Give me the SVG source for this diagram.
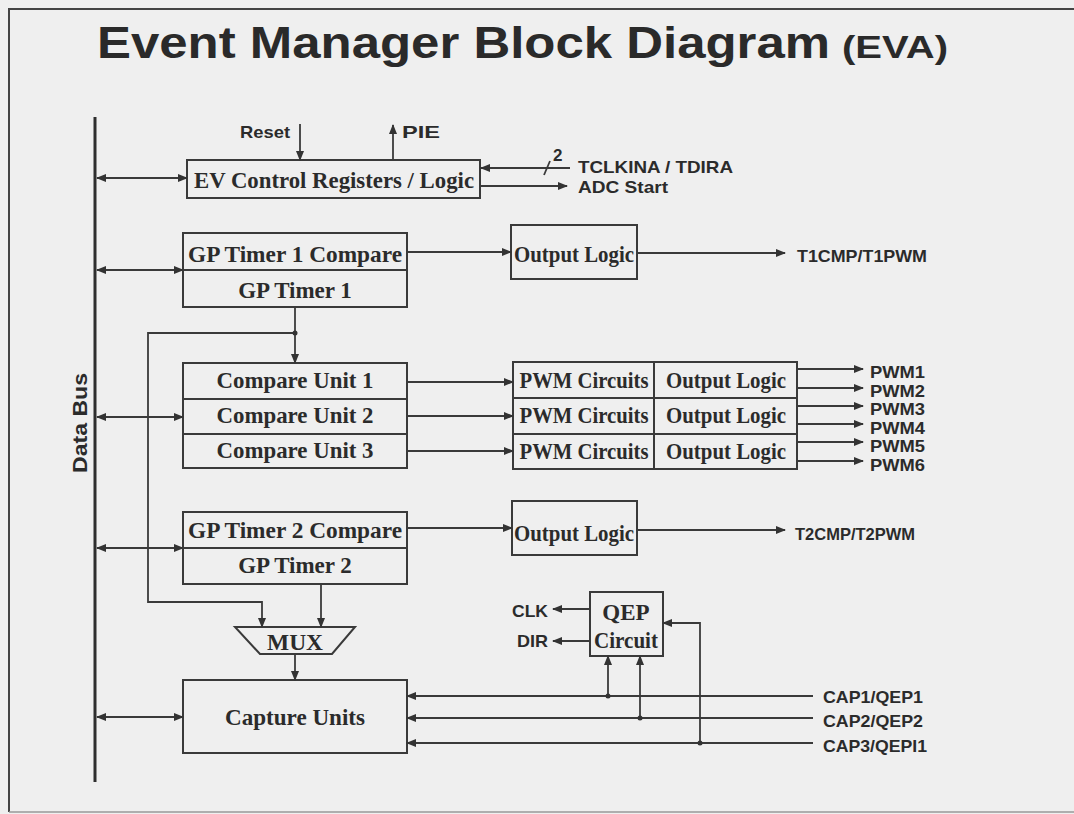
<svg xmlns="http://www.w3.org/2000/svg" width="1074" height="814" viewBox="0 0 1074 814">
<defs>
<marker id="arr" markerUnits="userSpaceOnUse" markerWidth="10" markerHeight="8" refX="9" refY="4" orient="auto-start-reverse">
<path d="M0,0 L10,4 L0,8 z" fill="#333"/>
</marker>
<style>
.box{fill:none;stroke:#3a3a3a;stroke-width:2}
.ln{fill:none;stroke:#3a3a3a;stroke-width:1.8}
.a{marker-end:url(#arr)}
.b{marker-start:url(#arr);marker-end:url(#arr)}
.t{font-family:"Liberation Serif",serif;font-weight:bold;font-size:23px;fill:#2b2b2b;text-anchor:middle}
.s{font-family:"Liberation Sans",Arial,sans-serif;font-weight:bold;font-size:17px;fill:#2b2b2b}
.dot{fill:#333}
</style>
</defs>
<rect x="0" y="0" width="1074" height="814" fill="#efefef"/>
<path d="M9,812 V9 H1074" fill="none" stroke="#444" stroke-width="2"/>
<line x1="9" y1="812" x2="1074" y2="812" stroke="#999" stroke-width="1.5"/>

<g id="title">
<text x="97" y="58" font-family="'Liberation Sans',Arial,sans-serif" font-weight="bold" font-size="44" fill="#2a2a2a" textLength="733" lengthAdjust="spacingAndGlyphs">Event Manager Block Diagram</text>
<text x="842" y="58" font-family="'Liberation Sans',Arial,sans-serif" font-weight="bold" font-size="31" fill="#2a2a2a" textLength="106" lengthAdjust="spacingAndGlyphs">(EVA)</text>
</g>

<g id="databus">
<line x1="95" y1="117" x2="95" y2="782" stroke="#2e2e2e" stroke-width="3"/>
<text transform="translate(87,423) rotate(-90)" text-anchor="middle" font-family="'Liberation Sans',Arial,sans-serif" font-weight="bold" font-size="21" fill="#2b2b2b" textLength="100" lengthAdjust="spacingAndGlyphs">Data Bus</text>
</g>

<g id="ev-control">
<rect class="box" x="187" y="160" width="293" height="38"/>
<text class="t" x="334" y="188" textLength="280" lengthAdjust="spacingAndGlyphs">EV Control Registers / Logic</text>
</g>

<g id="gp-timer1">
<rect class="box" x="183" y="233" width="224" height="74"/>
<line class="box" x1="183" y1="270" x2="407" y2="270"/>
<text class="t" x="295" y="262" textLength="214" lengthAdjust="spacingAndGlyphs">GP Timer 1 Compare</text>
<text class="t" x="295" y="298">GP Timer 1</text>
</g>

<g id="output-logic-1">
<rect class="box" x="511" y="225" width="126" height="54"/>
<text class="t" x="574" y="262" textLength="120" lengthAdjust="spacingAndGlyphs">Output Logic</text>
</g>

<g id="compare-units">
<rect class="box" x="183" y="363" width="224" height="105"/>
<line class="box" x1="183" y1="399" x2="407" y2="399"/>
<line class="box" x1="183" y1="434" x2="407" y2="434"/>
<text class="t" x="295" y="388" textLength="157" lengthAdjust="spacingAndGlyphs">Compare Unit 1</text>
<text class="t" x="295" y="423" textLength="157" lengthAdjust="spacingAndGlyphs">Compare Unit 2</text>
<text class="t" x="295" y="458" textLength="157" lengthAdjust="spacingAndGlyphs">Compare Unit 3</text>
</g>

<g id="pwm-blocks">
<rect class="box" x="513" y="362" width="284" height="107"/>
<line class="box" x1="513" y1="398" x2="797" y2="398"/>
<line class="box" x1="513" y1="434" x2="797" y2="434"/>
<line class="box" x1="654" y1="362" x2="654" y2="469"/>
<text class="t" x="584" y="388" textLength="129" lengthAdjust="spacingAndGlyphs">PWM Circuits</text>
<text class="t" x="584" y="423" textLength="129" lengthAdjust="spacingAndGlyphs">PWM Circuits</text>
<text class="t" x="584" y="459" textLength="129" lengthAdjust="spacingAndGlyphs">PWM Circuits</text>
<text class="t" x="726" y="388" textLength="120" lengthAdjust="spacingAndGlyphs">Output Logic</text>
<text class="t" x="726" y="423" textLength="120" lengthAdjust="spacingAndGlyphs">Output Logic</text>
<text class="t" x="726" y="459" textLength="120" lengthAdjust="spacingAndGlyphs">Output Logic</text>
</g>

<g id="gp-timer2">
<rect class="box" x="183" y="512" width="224" height="72"/>
<line class="box" x1="183" y1="548" x2="407" y2="548"/>
<text class="t" x="295" y="538" textLength="214" lengthAdjust="spacingAndGlyphs">GP Timer 2 Compare</text>
<text class="t" x="295" y="573">GP Timer 2</text>
</g>

<g id="output-logic-2">
<rect class="box" x="512" y="501" width="125" height="54"/>
<text class="t" x="574" y="541" textLength="120" lengthAdjust="spacingAndGlyphs">Output Logic</text>
</g>

<g id="mux">
<path class="box" d="M235,627 H355 L332,654 H260 Z"/>
<text class="t" x="295" y="650" font-size="22" textLength="56" lengthAdjust="spacingAndGlyphs">MUX</text>
</g>

<g id="capture-units">
<rect class="box" x="183" y="680" width="224" height="73"/>
<text class="t" x="295" y="725" textLength="140" lengthAdjust="spacingAndGlyphs">Capture Units</text>
</g>

<g id="qep-circuit">
<rect class="box" x="590" y="592" width="73" height="64"/>
<text class="t" x="626" y="620" font-size="22">QEP</text>
<text class="t" x="626" y="648" font-size="22" textLength="64" lengthAdjust="spacingAndGlyphs">Circuit</text>
</g>

<g id="labels">
<text class="s" x="240" y="138" textLength="50" lengthAdjust="spacingAndGlyphs">Reset</text>
<text class="s" x="402" y="138" textLength="38" lengthAdjust="spacingAndGlyphs">PIE</text>
<text class="s" x="553" y="161" font-size="16">2</text>
<text class="s" x="578" y="173" textLength="155" lengthAdjust="spacingAndGlyphs">TCLKINA / TDIRA</text>
<text class="s" x="578" y="193" textLength="90" lengthAdjust="spacingAndGlyphs">ADC Start</text>
<text class="s" x="797" y="262" textLength="130" lengthAdjust="spacingAndGlyphs">T1CMP/T1PWM</text>
<text class="s" x="870" y="378" textLength="55" lengthAdjust="spacingAndGlyphs">PWM1</text>
<text class="s" x="870" y="396.5" textLength="55" lengthAdjust="spacingAndGlyphs">PWM2</text>
<text class="s" x="870" y="415" textLength="55" lengthAdjust="spacingAndGlyphs">PWM3</text>
<text class="s" x="870" y="433.5" textLength="55" lengthAdjust="spacingAndGlyphs">PWM4</text>
<text class="s" x="870" y="452" textLength="55" lengthAdjust="spacingAndGlyphs">PWM5</text>
<text class="s" x="870" y="471" textLength="55" lengthAdjust="spacingAndGlyphs">PWM6</text>
<text class="s" x="795" y="540" textLength="120" lengthAdjust="spacingAndGlyphs">T2CMP/T2PWM</text>
<text class="s" x="512" y="617" textLength="36" lengthAdjust="spacingAndGlyphs">CLK</text>
<text class="s" x="517" y="647" textLength="31" lengthAdjust="spacingAndGlyphs">DIR</text>
<text class="s" x="823" y="703" textLength="100" lengthAdjust="spacingAndGlyphs">CAP1/QEP1</text>
<text class="s" x="823" y="727" textLength="100" lengthAdjust="spacingAndGlyphs">CAP2/QEP2</text>
<text class="s" x="823" y="752" textLength="104" lengthAdjust="spacingAndGlyphs">CAP3/QEPI1</text>
</g>

<g id="connectors">
<line class="ln a" x1="300" y1="124" x2="300" y2="160"/>
<line class="ln a" x1="393" y1="160" x2="393" y2="125"/>
<line class="ln b" x1="97" y1="178" x2="187" y2="178"/>
<line class="ln a" x1="570" y1="168" x2="481" y2="168"/>
<line class="ln" x1="544" y1="175" x2="550" y2="161"/>
<line class="ln a" x1="480" y1="186" x2="567" y2="186"/>
<line class="ln b" x1="97" y1="270" x2="183" y2="270"/>
<line class="ln a" x1="407" y1="252" x2="511" y2="252"/>
<line class="ln a" x1="637" y1="253" x2="785" y2="253"/>
<line class="ln a" x1="295" y1="307" x2="295" y2="363"/>
<path class="ln a" d="M295,333 H148 V602 H262 V627"/>
<line class="ln b" x1="97" y1="417" x2="183" y2="417"/>
<line class="ln a" x1="407" y1="382" x2="513" y2="382"/>
<line class="ln a" x1="407" y1="416" x2="513" y2="416"/>
<line class="ln a" x1="407" y1="451" x2="513" y2="451"/>
<line class="ln a" x1="797" y1="369" x2="863" y2="369"/>
<line class="ln a" x1="797" y1="388" x2="863" y2="388"/>
<line class="ln a" x1="797" y1="406" x2="863" y2="406"/>
<line class="ln a" x1="797" y1="424" x2="863" y2="424"/>
<line class="ln a" x1="797" y1="442" x2="863" y2="442"/>
<line class="ln a" x1="797" y1="461" x2="863" y2="461"/>
<line class="ln b" x1="97" y1="548" x2="183" y2="548"/>
<line class="ln a" x1="407" y1="528" x2="512" y2="528"/>
<line class="ln a" x1="637" y1="530" x2="785" y2="530"/>
<line class="ln a" x1="321" y1="584" x2="321" y2="627"/>
<line class="ln a" x1="295" y1="654" x2="295" y2="680"/>
<line class="ln b" x1="97" y1="717" x2="183" y2="717"/>
<line class="ln a" x1="813" y1="696" x2="407" y2="696"/>
<line class="ln a" x1="813" y1="718" x2="407" y2="718"/>
<line class="ln a" x1="813" y1="743" x2="407" y2="743"/>
<line class="ln a" x1="590" y1="609" x2="553" y2="609"/>
<line class="ln a" x1="590" y1="641" x2="553" y2="641"/>
<line class="ln a" x1="608" y1="696" x2="608" y2="656"/>
<line class="ln a" x1="640" y1="718" x2="640" y2="656"/>
<path class="ln a" d="M700,743 V623 H663"/>
<circle class="dot" cx="295" cy="333" r="2.5"/>
<circle class="dot" cx="608" cy="696" r="2.5"/>
<circle class="dot" cx="640" cy="718" r="2.5"/>
<circle class="dot" cx="700" cy="743" r="2.5"/>
</g>
</svg>
